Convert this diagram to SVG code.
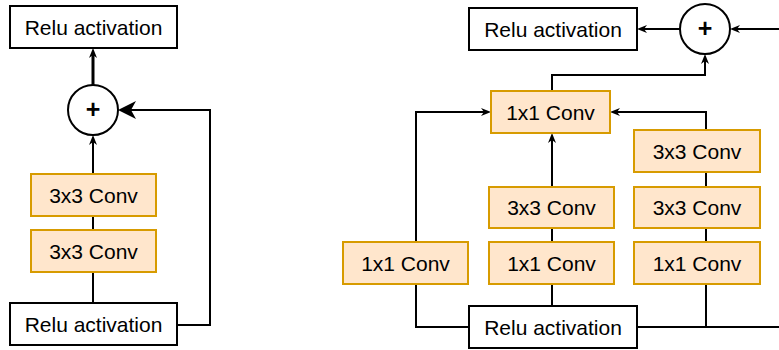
<svg xmlns="http://www.w3.org/2000/svg" width="779" height="350" viewBox="0 0 779 350">
<style>
  .box{fill:#ffffff;stroke:#000000;stroke-width:2}
  .conv{fill:#ffe6cc;stroke:#d79b00;stroke-width:2}
  .circ{fill:#ffffff;stroke:#000000;stroke-width:2}
  .lbl{font-family:"Liberation Sans",Arial,sans-serif;font-size:21px;fill:#000000;text-anchor:middle;dominant-baseline:central}
  .plus{font-family:"Liberation Sans",Arial,sans-serif;font-size:25px;font-weight:bold;fill:#000000;text-anchor:middle;dominant-baseline:central}
  .ln{fill:none;stroke:#000000;stroke-width:2}
  .thick{fill:none;stroke:#000000;stroke-width:3}
  .arr{marker-end:url(#a)}
  .big{marker-end:url(#b)}
</style>
<defs>
  <marker id="a" viewBox="0 0 10 8" refX="3" refY="4" markerWidth="10" markerHeight="8" markerUnits="userSpaceOnUse" orient="auto">
    <path d="M0,0 L10,4 L0,8 L3,4 Z" fill="#000000"/>
  </marker>
  <marker id="b" viewBox="0 0 18 18" refX="5" refY="9" markerWidth="18" markerHeight="18" markerUnits="userSpaceOnUse" orient="auto">
    <path d="M0,0 L18,9 L0,18 L5,9 Z" fill="#000000"/>
  </marker>
</defs>
<g id="connectors">
  <path class="ln" d="M93,303 V272"/>
  <path class="ln" d="M93,230 V216"/>
  <path class="ln arr" d="M93,174 V142"/>
  <path class="thick arr" d="M93,85 V55"/>
  <path class="ln big" d="M177,325 H210 V110 H131"/>
  <path class="ln arr" d="M680,29 H644"/>
  <path class="ln arr" d="M779,29 H737"/>
  <path class="ln arr" d="M552,91 V75 H705 V61"/>
  <path class="ln arr" d="M706,130 V112 H617"/>
  <path class="ln arr" d="M416,242 V112 H484"/>
  <path class="ln" d="M416,284 V327 H469"/>
  <path class="ln" d="M552,306 V284"/>
  <path class="ln" d="M552,242 V228"/>
  <path class="ln arr" d="M552,187 V140"/>
  <path class="ln" d="M706,172 V187"/>
  <path class="ln" d="M706,228 V242"/>
  <path class="ln" d="M706,284 V327"/>
  <path class="ln" d="M637,327 H779"/>
</g>
<g id="l_relu_top"><rect class="box" x="10" y="6" width="167" height="42"/><text class="lbl" x="93.5" y="27">Relu activation</text></g>
<g id="l_add"><circle class="circ" cx="93" cy="110" r="25"/><text class="plus" x="93" y="109">+</text></g>
<g id="l_conv1"><rect class="conv" x="31" y="174" width="125" height="42"/><text class="lbl" x="93.5" y="195">3x3 Conv</text></g>
<g id="l_conv2"><rect class="conv" x="31" y="230" width="125" height="42"/><text class="lbl" x="93.5" y="251">3x3 Conv</text></g>
<g id="l_relu_bottom"><rect class="box" x="10" y="303" width="167" height="42"/><text class="lbl" x="93.5" y="324">Relu activation</text></g>
<g id="r_relu_top"><rect class="box" x="469" y="8" width="168" height="42"/><text class="lbl" x="553" y="29">Relu activation</text></g>
<g id="r_add"><circle class="circ" cx="705" cy="29" r="25"/><text class="plus" x="705" y="28">+</text></g>
<g id="r_conv_top"><rect class="conv" x="491" y="91" width="119" height="42"/><text class="lbl" x="550.5" y="112">1x1 Conv</text></g>
<g id="r_branch1"><rect class="conv" x="343" y="242" width="125" height="42"/><text class="lbl" x="405.5" y="263">1x1 Conv</text></g>
<g id="r_branch2_a"><rect class="conv" x="489" y="242" width="125" height="42"/><text class="lbl" x="551.5" y="263">1x1 Conv</text></g>
<g id="r_branch2_b"><rect class="conv" x="489" y="187" width="125" height="41"/><text class="lbl" x="551.5" y="207.5">3x3 Conv</text></g>
<g id="r_branch3_a"><rect class="conv" x="634" y="242" width="126" height="42"/><text class="lbl" x="697" y="263">1x1 Conv</text></g>
<g id="r_branch3_b"><rect class="conv" x="634" y="187" width="126" height="41"/><text class="lbl" x="697" y="207.5">3x3 Conv</text></g>
<g id="r_branch3_c"><rect class="conv" x="634" y="130" width="126" height="42"/><text class="lbl" x="697" y="151">3x3 Conv</text></g>
<g id="r_relu_bottom"><rect class="box" x="469" y="306" width="168" height="42"/><text class="lbl" x="553" y="327">Relu activation</text></g>
</svg>
